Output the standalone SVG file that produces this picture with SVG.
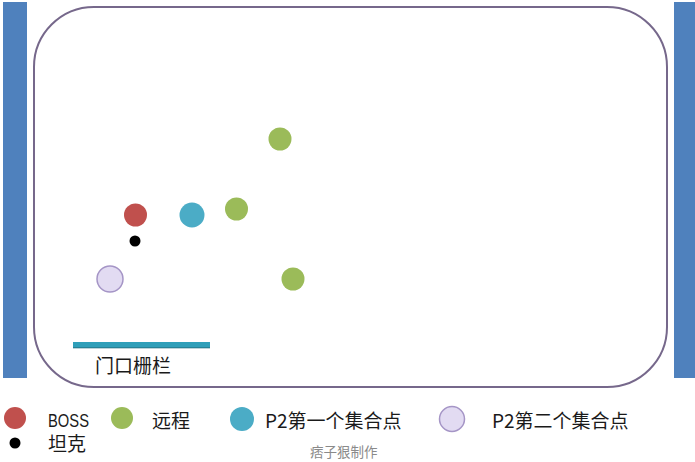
<svg xmlns="http://www.w3.org/2000/svg" width="695" height="462" viewBox="0 0 695 462">
<style>
.t{font-family:"Noto Sans CJK SC","Liberation Sans",sans-serif;font-size:19px;fill:#1a1a1a}
.l{font-family:"Liberation Sans","Noto Sans CJK SC",sans-serif;font-size:18px;fill:#1a1a1a}
.red{fill:#c0504d}
.green{fill:#9bbb59}
.blue{fill:#4bacc6}
.lav{fill:#e2dbf2;stroke:#a595c6;stroke-width:1.5}
.blk{fill:#000}
.wall{fill:#4f81bd}
</style>
<rect width="695" height="462" fill="#fff"/>
<g id="wall-left"><rect class="wall" x="3" y="2" width="24" height="376"/></g>
<g id="wall-right"><rect class="wall" x="674" y="2" width="21" height="376"/></g>
<g id="room"><rect x="34" y="7" width="633" height="380" rx="60" ry="60" fill="none" stroke="#76688b" stroke-width="2"/></g>
<g id="gate">
<rect x="73" y="342" width="137" height="6" fill="#2f9fb9"/>
<rect x="73" y="347" width="137" height="1.5" fill="#22707f" opacity="0.6"/>
<text class="t" x="95" y="373">门口栅栏</text>
</g>
<g id="boss"><circle class="red" cx="135.5" cy="215" r="11.5"/></g>
<g id="tank"><circle class="blk" cx="135" cy="241" r="5.5"/></g>
<g id="p2-first"><circle class="blue" cx="192" cy="215" r="12.5"/></g>
<g id="ranged-1"><circle class="green" cx="280" cy="139" r="11.5"/></g>
<g id="ranged-2"><circle class="green" cx="236.5" cy="209" r="11.5"/></g>
<g id="ranged-3"><circle class="green" cx="293" cy="279" r="11.5"/></g>
<g id="p2-second"><circle class="lav" cx="110" cy="279" r="13"/></g>
<g id="legend">
<circle class="red" cx="15" cy="418" r="11"/>
<text class="l" x="48" y="427" textLength="41" lengthAdjust="spacingAndGlyphs">BOSS</text>
<circle class="blk" cx="15" cy="443" r="5.5"/>
<text class="t" x="48" y="451">坦克</text>
<circle class="green" cx="122" cy="418" r="11"/>
<text class="t" x="152" y="428">远程</text>
<circle class="blue" cx="242" cy="419" r="12"/>
<text class="t" x="265" y="428">P2第一个集合点</text>
<circle class="lav" cx="452" cy="419" r="12.5"/>
<text class="t" x="492" y="428">P2第二个集合点</text>
<text x="310" y="457" style="font-family:'Noto Sans CJK SC',sans-serif;font-size:13.5px;fill:#8a8a8a">痞子狠制作</text>
</g>
<g id="connectors"/>
</svg>
